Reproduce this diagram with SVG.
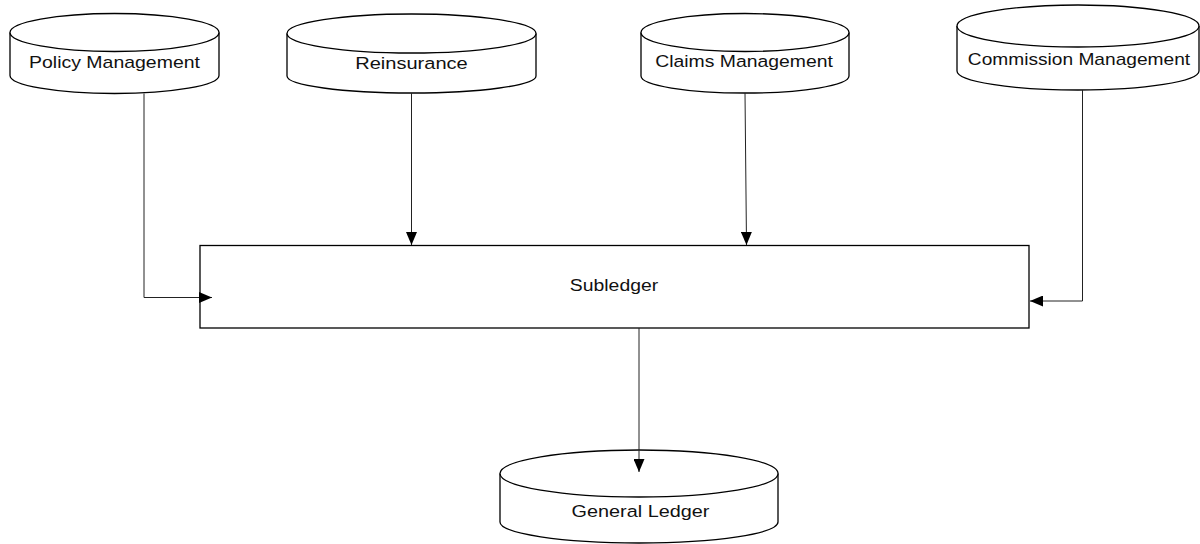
<svg xmlns="http://www.w3.org/2000/svg" width="1200" height="544" viewBox="0 0 1200 544">
  <style>
    .shape { fill: #ffffff; stroke: #000000; stroke-width: 1.3; }
    .conn { fill: none; stroke: #222222; stroke-width: 1; }
    .label { font-family: "Liberation Sans", Arial, sans-serif; font-size: 17px; fill: #111111; text-anchor: middle; }
  </style>
  <defs>
    <marker id="arrow" markerUnits="userSpaceOnUse" markerWidth="13" markerHeight="11" refX="13" refY="5.5" orient="auto">
      <path d="M0,0 L13,5.5 L0,11 z" fill="#000000"/>
    </marker>
  </defs>
  <rect width="1200" height="544" fill="#ffffff"/>

  <g id="policy-management">
    <path class="shape" d="M10,32.5 V75.5 A104.5,18 0 0 0 219,75.5 V32.5"/>
    <ellipse class="shape" cx="114.5" cy="32.5" rx="104.5" ry="19"/>
    <text class="label" transform="translate(114.5,68) scale(1.145,1)">Policy Management</text>
  </g>

  <g id="reinsurance">
    <path class="shape" d="M287,33.5 V76 A124.5,17 0 0 0 536,76 V33.5"/>
    <ellipse class="shape" cx="411.5" cy="33.5" rx="124.5" ry="19.5"/>
    <text class="label" transform="translate(411.5,69) scale(1.18,1)">Reinsurance</text>
  </g>

  <g id="claims-management">
    <path class="shape" d="M641,32.5 V76 A104,17 0 0 0 849,76 V32.5"/>
    <ellipse class="shape" cx="745" cy="32.5" rx="104" ry="19"/>
    <text class="label" transform="translate(744,67) scale(1.14,1)">Claims Management</text>
  </g>

  <g id="commission-management">
    <path class="shape" d="M957,26 V71 A121,19 0 0 0 1199,71 V26"/>
    <ellipse class="shape" cx="1078" cy="26" rx="121" ry="21"/>
    <text class="label" transform="translate(1079,65) scale(1.126,1)">Commission Management</text>
  </g>

  <g id="subledger">
    <rect class="shape" x="200" y="245.5" width="829" height="82.5"/>
    <text class="label" transform="translate(614,291) scale(1.14,1)">Subledger</text>
  </g>

  <g id="general-ledger">
    <path class="shape" d="M500,473.5 V522 A139,21 0 0 0 778,522 V473.5"/>
    <ellipse class="shape" cx="639" cy="473.5" rx="139" ry="23.5"/>
    <text class="label" transform="translate(640.5,517) scale(1.167,1)">General Ledger</text>
  </g>

  <g id="connectors">
    <path class="conn" d="M144,93.5 V297.5 H212" marker-end="url(#arrow)"/>
    <path class="conn" d="M411.5,93 V245" marker-end="url(#arrow)"/>
    <path class="conn" d="M745,93 L746.5,245" marker-end="url(#arrow)"/>
    <path class="conn" d="M1082.5,90 V301 H1030" marker-end="url(#arrow)"/>
    <path class="conn" d="M639,328 V472" marker-end="url(#arrow)"/>
  </g>
</svg>
